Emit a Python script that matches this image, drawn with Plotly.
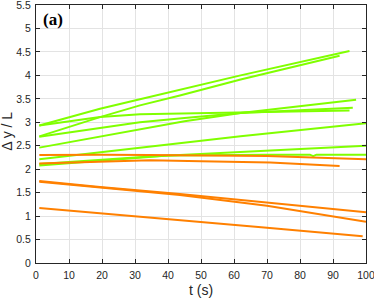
import plotly.graph_objects as go

# ---- data ----
green_t = [
    [1, 19.4, 31.5, 45, 62, 95],
    [1, 19.4, 31.5, 43.6, 62, 92],
    [1, 19.4, 31.5, 45, 62, 95],
    [1, 31.5, 45, 62, 96],
    [1, 31.5, 45, 62, 97],
    [1, 34.5, 62, 100],
    [1, 34.5, 68, 100],
    [1, 40, 70, 83, 84, 85, 100],
]
green_y = [
    [2.93, 3.29, 3.49, 3.72, 4.00, 4.52],
    [2.70, 3.11, 3.36, 3.57, 3.91, 4.42],
    [2.93, 3.11, 3.17, 3.19, 3.21, 3.25],
    [2.69, 3.00, 3.09, 3.20, 3.31],
    [2.46, 2.85, 3.02, 3.20, 3.48],
    [2.21, 2.48, 2.70, 2.98],
    [2.11, 2.27, 2.39, 2.50],
    [2.08, 2.29, 2.31, 2.31, 2.28, 2.31, 2.31],
]
orange_t = [
    [1, 20, 34.5, 70, 100],
    [1, 34.5, 50, 71, 92],
    [1, 19.4, 43.6, 70, 90, 100],
    [1, 19.4, 43.6, 70, 90, 100],
    [1, 45, 70, 99],
]
orange_y = [
    [2.30, 2.31, 2.30, 2.28, 2.21],
    [2.12, 2.19, 2.17, 2.14, 2.07],
    [1.75, 1.62, 1.47, 1.29, 1.15, 1.08],
    [1.73, 1.61, 1.45, 1.22, 0.99, 0.88],
    [1.17, 0.91, 0.75, 0.57],
]
x_ticks = [0, 10, 20, 30, 40, 50, 60, 70, 80, 90, 100]
y_ticks = [0, 0.5, 1, 1.5, 2, 2.5, 3, 3.5, 4, 4.5, 5, 5.5]
y_tick_text = ["0", "0.5", "1", "1.5", "2", "2.5", "3", "3.5", "4", "4.5", "5", "5.5"]

GREEN = "#80FF00"
ORANGE = "#FF8000"

fig = go.Figure()
for t, y in zip(green_t, green_y):
    fig.add_trace(go.Scatter(x=t, y=y, mode="lines", line=dict(color=GREEN, width=2),
                             showlegend=False, hoverinfo="skip"))
for t, y in zip(orange_t, orange_y):
    fig.add_trace(go.Scatter(x=t, y=y, mode="lines", line=dict(color=ORANGE, width=2),
                             showlegend=False, hoverinfo="skip"))

axis_common = dict(
    showline=True, linecolor="#262626", linewidth=1, mirror="ticks",
    ticks="inside", ticklen=4, tickcolor="#262626", tickwidth=1,
    showgrid=True, gridcolor="#E3E3E3", gridwidth=1, zeroline=False,
    ticklabeloverflow="allow", automargin=False,
    tickfont=dict(family="Liberation Sans, Arial, sans-serif", size=10.5, color="#262626"),
)

fig.update_layout(
    width=374, height=299,
    margin=dict(l=36, r=8, t=5, b=36, autoexpand=False),
    paper_bgcolor="white", plot_bgcolor="white",
    xaxis=dict(range=[0, 100.0001], tickvals=x_ticks, ticklabelstandoff=2, **axis_common),
    yaxis=dict(range=[0, 5.5001], tickvals=y_ticks, ticktext=y_tick_text, ticklabelstandoff=2,
               **axis_common),
    annotations=[
        dict(text="<b>(a)</b>", x=(53 - 36) / 330, y=(262.7 - 19) / 258, xref="paper", yref="paper",
             showarrow=False, xanchor="center", yanchor="middle",
             font=dict(family="Liberation Serif, Times New Roman, serif", size=17, color="black")),
        dict(text="t (s)", x=(200.5 - 36) / 330, y=(262.7 - 289.5) / 258, xref="paper", yref="paper",
             showarrow=False, xanchor="center", yanchor="middle",
             font=dict(family="Liberation Sans, Arial, sans-serif", size=14, color="#262626")),
        dict(text="Δ y / L", x=(7.5 - 36) / 330, y=(262.7 - 131) / 258, xref="paper", yref="paper",
             showarrow=False, xanchor="center", yanchor="middle", textangle=-90,
             font=dict(family="Liberation Sans, Arial, sans-serif", size=14, color="#262626")),
    ],
)

fig.write_html(
    "out.html",
    config={"displayModeBar": False, "staticPlot": True},
    post_script="document.body.style.margin='0';document.body.style.overflow='hidden';",
)
